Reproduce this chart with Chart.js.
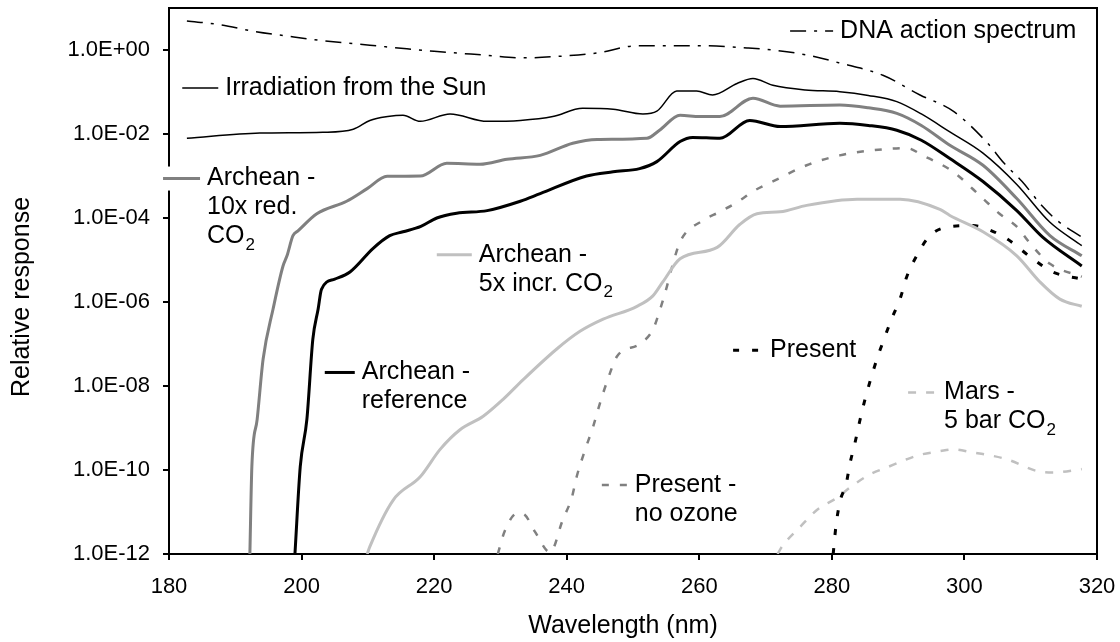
<html>
<head>
 <meta charset="utf-8" />
 <title>Relative response vs wavelength</title>
 <script src="https://cdn.jsdelivr.net/npm/chart.js@4/dist/chart.umd.min.js"></script>
 <style>
  body { margin: 0; background: #fff; }
 </style>
</head>
<body>
 <canvas id="myChart" width="1120" height="642"></canvas>

 <script>
  // wavelength (nm) / relative response
  var dnaWl = [182.7, 187.7, 192.7, 198.3, 202.8, 210.3, 215, 220, 227.4, 233.4, 239, 244.6, 250.6, 255.5, 260.5, 267.2, 271.1, 276.2, 281.2, 287.7, 293.3, 298.3, 303.4, 306, 308.7, 311.7, 314, 317.7];
  var dnaVal = [4.9, 4.0, 2.8, 2.1, 1.7, 1.3, 1.1, 0.93, 0.76, 0.65, 0.71, 0.85, 1.26, 1.26, 1.26, 1.12, 1.0, 0.76, 0.49, 0.25, 0.085, 0.035, 6.3e-3, 2.0e-3, 7.4e-4, 1.95e-4, 8.7e-5, 3.5e-5];

  var sunWl = [182.7, 193.7, 203.2, 207.8, 210.3, 213, 215.3, 217.9, 222.4, 228, 233, 237.9, 242.4, 247, 251.5, 253.6, 256.6, 259.6, 262, 265.7, 268.1, 271.1, 276, 281.2, 285.5, 289.8, 293.5, 297.8, 302.8, 307.9, 312.9, 317.7];
  var sunVal = [7.9e-3, 1.05e-2, 1.1e-2, 1.3e-2, 2.1e-2, 2.6e-2, 2.8e-2, 2.0e-2, 3.0e-2, 2.0e-2, 2.1e-2, 2.6e-2, 4.1e-2, 3.9e-2, 3.0e-2, 3.5e-2, 0.105, 0.105, 8.5e-2, 0.16, 0.21, 0.145, 0.112, 0.102, 8.3e-2, 5.9e-2, 3.0e-2, 1.12e-2, 3.5e-3, 6.3e-4, 7.9e-5, 2.2e-5];

  var red10Wl = [192.2, 192.5, 193.3, 194.2, 195.7, 197.2, 197.8, 198.7, 199.5, 202.3, 206.8, 209.9, 212.9, 217.9, 221.9, 226.9, 231, 236, 240.9, 244.6, 252.1, 254, 257.1, 260.1, 263.1, 268.1, 272.2, 281.2, 285.5, 289.8, 293.5, 297.8, 302.8, 307.9, 312.9, 317.7];
  var red10Val = [1e-12, 1.2e-10, 1.6e-9, 4.4e-8, 6.8e-7, 7.2e-6, 1.26e-5, 3.8e-5, 5.0e-5, 1.26e-4, 2.5e-4, 5.0e-4, 9.8e-4, 1.0e-3, 2.0e-3, 1.9e-3, 2.5e-3, 3.1e-3, 6.0e-3, 7.4e-3, 7.9e-3, 1.23e-2, 2.8e-2, 2.6e-2, 2.6e-2, 7.1e-2, 4.6e-2, 4.9e-2, 4.2e-2, 3.1e-2, 1.6e-2, 5.4e-3, 1.8e-3, 2.9e-4, 3.8e-5, 1.26e-5];

  var refWl = [199.0, 199.8, 200.8, 201.7, 202.5, 203.0, 205, 207.3, 210.8, 213.3, 215.3, 218, 220.4, 223.4, 228, 233, 236, 243, 247, 251, 253.6, 257.1, 259, 263.1, 267.6, 272.2, 281.2, 285.5, 289.8, 293.5, 297.8, 302.8, 307.9, 311.8, 317.7];
  var refVal = [1e-12, 1.2e-10, 1.6e-9, 1.3e-7, 6.8e-7, 2.0e-6, 3.5e-6, 5.2e-6, 1.9e-5, 3.8e-5, 4.7e-5, 6.3e-5, 1.0e-4, 1.3e-4, 1.5e-4, 2.5e-4, 3.8e-4, 1.0e-3, 1.26e-3, 1.5e-3, 2.2e-3, 6.6e-3, 8.3e-3, 7.9e-3, 2.1e-2, 1.5e-2, 1.8e-2, 1.6e-2, 1.23e-2, 7.1e-3, 2.6e-3, 7.4e-4, 1.5e-4, 3.5e-5, 7.2e-6];

  var incr5Wl = [209.9, 210.3, 213.8, 217.9, 220.9, 223.9, 227.4, 230.4, 233.4, 238.5, 242, 245.5, 250.6, 253, 254.5, 257.1, 262.7, 266.1, 268.7, 272.2, 276.2, 283.8, 290.3, 296.3, 297.8, 302.8, 307.9, 311.4, 314.4, 317.7];
  var incr5Val = [1e-12, 1.5e-12, 1.9e-11, 6.9e-11, 3.1e-10, 9.1e-10, 1.9e-9, 4.8e-9, 1.4e-8, 7.6e-8, 2.0e-7, 3.9e-7, 7.9e-7, 1.4e-6, 3.0e-6, 1.07e-5, 2.0e-5, 7.0e-5, 1.26e-4, 1.4e-4, 2.0e-4, 2.8e-4, 2.8e-4, 1.6e-4, 1.15e-4, 4.7e-5, 1.26e-5, 3.0e-6, 1.17e-6, 7.9e-7];

  var noOzoneWl = [229.6, 230.7, 232.6, 233.7, 235.2, 237.5, 239.4, 240.8, 241.5, 242.7, 244, 245, 246.1, 247.6, 251, 253, 254, 255.1, 255.9, 257.1, 260.5, 263.1, 266.1, 268.1, 271.1, 276.2, 281.2, 286.2, 291.3, 293.7, 298.3, 302.8, 305.3, 307.9, 309.9, 312.9, 317.7];
  var noOzoneVal = [1e-12, 3.7e-12, 9.5e-12, 8.5e-12, 3.4e-12, 1.1e-12, 6.5e-12, 2.3e-11, 6.9e-11, 2.8e-10, 1.1e-9, 3.8e-9, 1.3e-8, 5.1e-8, 1.0e-7, 2.2e-7, 6.0e-7, 2.3e-6, 6.9e-6, 2.7e-5, 8.7e-5, 1.4e-4, 2.6e-4, 4.3e-4, 7.4e-4, 1.8e-3, 3.1e-3, 4.1e-3, 4.6e-3, 3.1e-3, 1.26e-3, 2.9e-4, 1.26e-4, 6.2e-5, 2.5e-5, 8.1e-6, 4.0e-6];

  var presentWl = [280.2, 280.6, 281.2, 282.2, 282.7, 283.5, 284.2, 285, 286.8, 287.7, 289, 290.3, 291.3, 292.8, 294.8, 297.8, 301.3, 303.4, 306.4, 310.3, 313.3, 317.7];
  var presentVal = [1e-12, 4.4e-12, 1.7e-11, 5.0e-11, 1.35e-10, 4.5e-10, 1.45e-9, 4.8e-9, 4.4e-8, 1.1e-7, 3.9e-7, 1.2e-6, 4.0e-6, 1.26e-5, 3.8e-5, 6.2e-5, 6.6e-5, 5.5e-5, 3.2e-5, 1.07e-5, 5.2e-6, 3.5e-6];

  var marsWl = [271.8, 272.6, 275.2, 277.7, 280.8, 282.7, 285.7, 288.3, 291.3, 293.3, 296.3, 298.3, 301.3, 303.4, 306.4, 310.9, 313.3, 317.7];
  var marsVal = [1e-12, 1.6e-12, 4.4e-12, 1.1e-11, 2.2e-11, 3.8e-11, 7.8e-11, 1.15e-10, 1.8e-10, 2.3e-10, 2.8e-10, 3.1e-10, 2.6e-10, 2.3e-10, 1.8e-10, 9.5e-11, 8.7e-11, 1.05e-10];

  var yTickValues = [1e-12, 1e-10, 1e-8, 1e-6, 1e-4, 1e-2, 1];
  var yTickLabels = ["1.0E-12", "1.0E-10", "1.0E-08", "1.0E-06", "1.0E-04", "1.0E-02", "1.0E+00"];

  function pts(xs, ys) {
   return xs.map(function (x, i) { return { x: x, y: ys[i] }; });
  }

  function series(wl, val, color, width, dash) {
   return {
    data: pts(wl, val),
    borderColor: color,
    borderWidth: width,
    borderDash: dash || [],
    pointRadius: 0,
    fill: false,
    cubicInterpolationMode: 'monotone'
   };
  }

  var datasets = [
   series(dnaWl, dnaVal, '#000000', 1.5, [16, 8, 3, 8]),      // 0 DNA
   series(sunWl, sunVal, '#000000', 1.5),                     // 1 Sun
   series(red10Wl, red10Val, '#808080', 3),                   // 2 10x red
   series(incr5Wl, incr5Val, '#c0c0c0', 3),                   // 3 5x incr
   series(refWl, refVal, '#000000', 3),                       // 4 reference
   series(presentWl, presentVal, '#000000', 3, [6, 13]),      // 5 present
   series(marsWl, marsVal, '#c0c0c0', 2.5, [8, 10]),          // 6 mars
   series(noOzoneWl, noOzoneVal, '#808080', 2.5, [7, 11])     // 7 no ozone
  ];

  // in-plot labels, anchored at the left end of the sample line (data coords)
  var labels = [
   { ds: 0, wl: 273.7, val: 2.85, len: 43, lines: ["DNA action spectrum"], sub: [] },
   { ds: 1, wl: 182.0, val: 0.124, len: 36, lines: ["Irradiation from the Sun"], sub: [] },
   { ds: 2, wl: 179.1, val: 8.7e-4, len: 37, lines: ["Archean -", "10x red.", "CO"], sub: [null, null, "2"] },
   { ds: 3, wl: 220.4, val: 1.33e-5, len: 35, lines: ["Archean -", "5x incr. CO"], sub: [null, "2"] },
   { ds: 4, wl: 203.5, val: 2.1e-8, len: 30, lines: ["Archean -", "reference"], sub: [] },
   { ds: 5, wl: 265.1, val: 7.1e-8, len: 30, lines: ["Present"], sub: [] },
   { ds: 6, wl: 291.5, val: 7.0e-9, len: 29, lines: ["Mars -", "5 bar CO"], sub: [null, "2"] },
   { ds: 7, wl: 245.3, val: 4.4e-11, len: 26, lines: ["Present -", "no ozone"], sub: [] }
  ];

  var FONT = "'Liberation Sans', Arial, sans-serif";

  var annotate = {
   id: 'annotate',
   beforeDatasetsDraw: function (chart) {
    var ctx = chart.ctx, a = chart.chartArea;
    ctx.save();
    ctx.strokeStyle = '#000';
    ctx.lineWidth = 2;
    ctx.beginPath();
    ctx.moveTo(a.left, a.top);
    ctx.lineTo(a.right, a.top);
    ctx.lineTo(a.right, a.bottom);
    ctx.stroke();
    ctx.restore();
   },
   afterDraw: function (chart) {
    var ctx = chart.ctx;
    var xs = chart.scales.x, ys = chart.scales.y;
    ctx.save();
    labels.forEach(function (lb) {
     var ds = chart.data.datasets[lb.ds];
     var x0 = xs.getPixelForValue(lb.wl);
     var y0 = ys.getPixelForValue(lb.val);
     ctx.fillStyle = '#fff';
     ctx.fillRect(x0 - 2, y0 - 12, lb.len + 6, 24);
     ctx.strokeStyle = ds.borderColor;
     ctx.lineWidth = ds.borderWidth;
     ctx.setLineDash(ds.borderDash);
     ctx.beginPath();
     ctx.moveTo(x0, y0);
     ctx.lineTo(x0 + lb.len, y0);
     ctx.stroke();
     ctx.setLineDash([]);
     ctx.fillStyle = '#000';
     ctx.textBaseline = 'middle';
     ctx.textAlign = 'left';
     var tx = x0 + lb.len + 7;
     lb.lines.forEach(function (t, i) {
      var ty = y0 + i * 29;
      ctx.font = '25px ' + FONT;
      ctx.fillText(t, tx, ty);
      if (lb.sub[i]) {
       var w = ctx.measureText(t).width;
       ctx.font = '17px ' + FONT;
       ctx.fillText(lb.sub[i], tx + w + 1, ty + 9);
      }
     });
    });

    // axis titles
    ctx.font = '25px ' + FONT;
    ctx.textAlign = 'center';
    ctx.fillText('Wavelength (nm)', 623, 626);
    ctx.translate(22, 297);
    ctx.rotate(-Math.PI / 2);
    ctx.fillText('Relative response', 0, 0);
    ctx.restore();
   }
  };

  Chart.defaults.font.family = FONT;
  Chart.defaults.color = '#000';

  var chart = new Chart(document.getElementById('myChart').getContext('2d'), {
   type: 'line',
   data: { datasets: datasets },
   plugins: [annotate],
   options: {
    responsive: false,
    animation: false,
    devicePixelRatio: 1,
    layout: { padding: { top: 8, right: 23, left: 0, bottom: 0 } },
    plugins: { legend: { display: false }, tooltip: { enabled: false } },
    scales: {
     x: {
      type: 'linear',
      min: 180,
      max: 320,
      afterFit: function (s) { s.height = 88; s.paddingLeft = 0; s.paddingRight = 0; },
      ticks: { stepSize: 20, padding: 14, font: { size: 22 }, color: '#000' },
      grid: { drawOnChartArea: false, drawTicks: true, tickLength: 6, color: '#000', lineWidth: 2 },
      border: { display: true, color: '#000', width: 2 }
     },
     y: {
      type: 'logarithmic',
      min: 1e-12,
      max: 10,
      afterFit: function (s) { s.width = 169; s.paddingTop = 0; s.paddingBottom = 0; },
      afterBuildTicks: function (s) {
       s.ticks = yTickValues.map(function (v) { return { value: v }; });
      },
      ticks: {
       padding: 13,
       font: { size: 22 },
       color: '#000',
       callback: function (v) {
        var i = yTickValues.indexOf(v);
        return i >= 0 ? yTickLabels[i] : '';
       }
      },
      grid: { drawOnChartArea: false, drawTicks: true, tickLength: 6, color: '#000', lineWidth: 2 },
      border: { display: true, color: '#000', width: 2 }
     }
    }
   }
  });
 </script>
</body>
</html>
